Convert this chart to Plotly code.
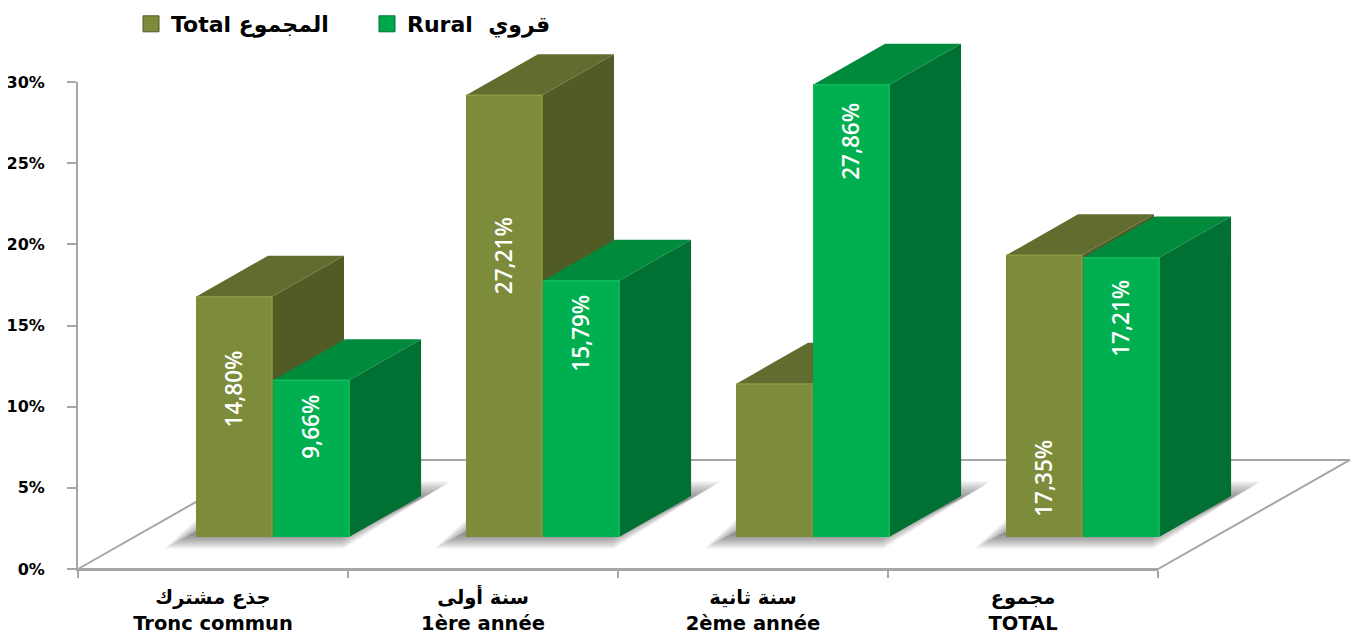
import plotly.graph_objects as go

categories = ["جذع مشترك<br>Tronc commun", "سنة أولى<br>1ère année", "سنة ثانية<br>2ème année", "مجموع<br>TOTAL"]
series_names = ["Total المجموع", "Rural\u00a0\u00a0قروي"]
total_values = [14.80, 27.21, 9.43, 17.35]
rural_values = [9.66, 15.79, 27.86, 17.21]
total_labels = ["14,80%", "27,21%", None, "17,35%"]
rural_labels = ["9,66%", "15,79%", "27,86%", "17,21%"]
total_label_drop = [5.7, 9.9, 0, 13.75]
rural_label_drop = [2.85, 3.25, 3.5, 3.75]
y_ticks = [0, 5, 10, 15, 20, 25, 30]
y_tick_text = ["0%", "5%", "10%", "15%", "20%", "25%", "30%"]

# figure frame (the page adds an 8 px body margin)
W, H = 1352, 629
AX_L, AX_R, AX_T, AX_B = 70, 1150, 74, 561
X_UNIT = (AX_R - AX_L) / 4
Y_UNIT = (AX_B - AX_T) / 30

# projection of the pseudo-3D scene, in axis units
BAR_W = 0.2815
BAR_START = 0.437
BAR_GAP = 0.004
LIFT = 1.97
DX, DY = 0.2667, 2.53
FLOOR_DX, FLOOR_DY = 0.711, 6.72

OLIVE = dict(front="#7D8C3A", top="#616D2E", side="#505B25", edge="#8B9B42", swatch="#7D8C3A")
GREEN = dict(front="#00B050", top="#008A3C", side="#007033", edge="#12BC5E", swatch="#00A84C")

fig = go.Figure()

# invisible carrier for the visible axes
fig.add_trace(go.Scatter(x=[0, 4], y=[0, 30], mode="markers", marker=dict(opacity=0),
                         hoverinfo="skip", showlegend=False, xaxis="x", yaxis="y"))


def poly(xs, ys, fill):
    fig.add_trace(go.Scatter(
        x=xs + xs[:1], y=ys + ys[:1], mode="lines", fill="toself", fillcolor=fill,
        line=dict(color="rgba(0,0,0,0)", width=0),
        hoverinfo="skip", showlegend=False, xaxis="x2", yaxis="y2"))


# floor
fig.add_trace(go.Scatter(
    x=[0, 4, 4 + FLOOR_DX, FLOOR_DX, 0], y=[0, 0, FLOOR_DY, FLOOR_DY, 0], mode="lines",
    line=dict(color="#A6A6A6", width=2), hoverinfo="skip", showlegend=False, xaxis="x2", yaxis="y2"))

# soft shadows below each pair of bars
LAYERS = 10
for i in range(len(categories)):
    x0 = i + BAR_START
    x1 = x0 + 2 * BAR_W + BAR_GAP
    for k in range(LAYERS):
        g = 1 - k / (LAYERS - 1)
        low = LIFT + 0.15 - 0.85 * g
        high = LIFT + DY - 0.2 + 1.1 * g
        poly([x0 - 0.02 - 0.095 * g, x1 - 0.03 + 0.01 * g, x1 + DX + 0.11 * g, x0 + DX - 0.115 * g],
             [low, low, high, high], "rgba(40,40,40,0.07)")


def bar(i, offset, value, c):
    x0 = i + BAR_START + offset
    x1 = x0 + BAR_W
    y0 = LIFT
    y1 = LIFT + value
    poly([x1, x1 + DX, x1 + DX, x1], [y0, y0 + DY, y1 + DY, y1], c["side"])
    poly([x0, x1, x1 + DX, x0 + DX], [y1, y1, y1 + DY, y1 + DY], c["top"])
    poly([x0, x1, x1, x0], [y0, y0, y1, y1], c["front"])
    fig.add_trace(go.Scatter(
        x=[x0, x1, x1], y=[y1, y1, y0], mode="lines", line=dict(color=c["edge"], width=1.5),
        hoverinfo="skip", showlegend=False, xaxis="x2", yaxis="y2"))


for i in range(len(categories)):
    bar(i, 0, total_values[i], OLIVE)
    bar(i, BAR_W + BAR_GAP, rural_values[i], GREEN)

# legend entries
for name, c in zip(series_names, (OLIVE, GREEN)):
    fig.add_trace(go.Scatter(
        x=[None], y=[None], mode="markers", name=name, xaxis="x2", yaxis="y2",
        marker=dict(symbol="square", size=16, color=c["swatch"], line=dict(color=c["side"], width=1))))

annotations = []
for i in range(len(categories)):
    for offset, vals, labs, drops in (
        (0, total_values, total_labels, total_label_drop),
        (BAR_W + BAR_GAP, rural_values, rural_labels, rural_label_drop),
    ):
        if labs[i] is None:
            continue
        annotations.append(dict(
            xref="x2", yref="y2",
            x=i + BAR_START + offset + BAR_W / 2 - 0.003, y=LIFT + vals[i] - drops[i],
            text=labs[i], textangle=-90, showarrow=False,
            font=dict(family="Open Sans", size=22.5, color="white", weight=600)))

fig.update_layout(
    width=W, height=H,
    margin=dict(l=0, r=0, t=0, b=0, autoexpand=False),
    paper_bgcolor="white", plot_bgcolor="rgba(0,0,0,0)",
    font=dict(family="DejaVu Sans", color="black"),
    annotations=annotations,
    showlegend=True,
    legend=dict(
        orientation="h", x=123 / W, xanchor="left", y=1 + 5 / H, yanchor="top",
        entrywidth=191, entrywidthmode="pixels",
        font=dict(family="DejaVu Sans", size=22, color="black", weight="bold"),
        bgcolor="rgba(0,0,0,0)"),
    xaxis=dict(
        domain=[AX_L / W, AX_R / W],
        range=[0, 4], showgrid=False, zeroline=False, showline=True, linecolor="#A6A6A6", linewidth=2,
        tickmode="array", tickvals=[0.5, 1.5, 2.5, 3.5], ticktext=categories, ticks="",
        ticklabelstandoff=10,
        tickfont=dict(family="DejaVu Sans", size=19.5, color="black", weight="bold"),
        minor=dict(ticks="outside", ticklen=7, tickcolor="#A6A6A6", tickwidth=2,
                   tickmode="array", tickvals=[0, 1, 2, 3, 4], showgrid=False)),
    yaxis=dict(
        domain=[(H - AX_B) / H, (H - AX_T) / H],
        range=[0, 30], showgrid=False, zeroline=False, showline=True, linecolor="#A6A6A6", linewidth=2,
        tickmode="array", tickvals=y_ticks, ticktext=y_tick_text, ticks="outside", ticklen=9,
        ticklabelstandoff=19,
        tickcolor="#A6A6A6", tickwidth=2,
        tickfont=dict(family="DejaVu Sans", size=16, color="black", weight="bold")),
    xaxis2=dict(
        domain=[0, 1], anchor="y2", visible=False, showgrid=False, zeroline=False,
        range=[-AX_L / X_UNIT, (W - AX_L) / X_UNIT]),
    yaxis2=dict(
        domain=[0, 1], anchor="x2", visible=False, showgrid=False, zeroline=False,
        range=[-(H - AX_B) / Y_UNIT, AX_B / Y_UNIT]),
)

fig.write_html("out.html")
